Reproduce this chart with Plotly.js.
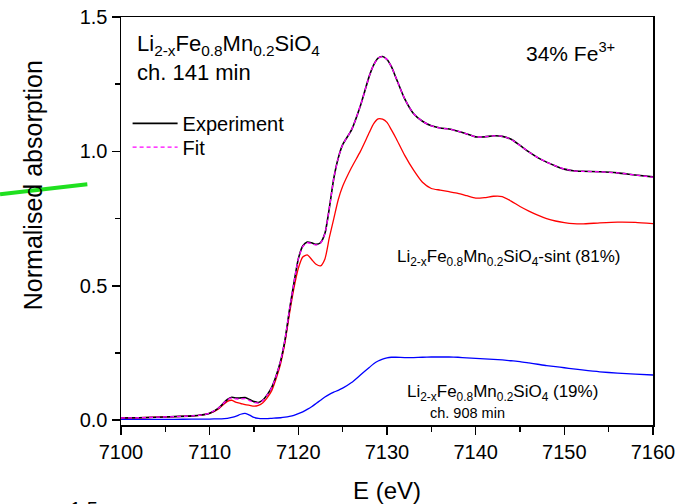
<!DOCTYPE html>
<html>
<head>
<meta charset="utf-8">
<script src="https://cdn.plot.ly/plotly-3.0.1.min.js"></script>
<style>html,body{margin:0;padding:0;background:#fff;}#chart{width:684px;height:504px;}</style>
</head>
<body>
<div id="chart"></div>
<script>
// Photon energy grid (eV)
const energy = [7100,7102,7104,7106,7108,7109,7110,7111,7112,7112.5,7113,7113.5,7114,7114.5,7115,7115.5,7116,7116.5,7117,7117.5,7118,7118.5,7119,7119.5,7120,7120.5,7121,7121.5,7122,7122.5,7123,7123.5,7124,7124.5,7125,7126,7127,7128,7128.5,7129,7129.5,7130,7130.5,7131,7132,7133,7134,7135,7136,7137,7138,7139,7140,7141,7142,7143,7144,7145,7146,7147,7148,7149,7150,7151,7152,7154,7156,7158,7160];

// Experiment (black)
const experiment = [0.008,0.009,0.011,0.013,0.016,0.019,0.026,0.045,0.077,0.085,0.082,0.083,0.084,0.077,0.069,0.066,0.075,0.095,0.122,0.165,0.22,0.30,0.41,0.51,0.60,0.648,0.663,0.66,0.654,0.66,0.695,0.79,0.90,0.975,1.025,1.08,1.17,1.28,1.322,1.347,1.353,1.342,1.315,1.275,1.195,1.14,1.112,1.095,1.087,1.083,1.075,1.065,1.054,1.054,1.058,1.056,1.045,1.022,0.998,0.977,0.96,0.946,0.934,0.928,0.926,0.924,0.92,0.912,0.905];

// Fit (magenta dashed)
const fit = [0.008,0.009,0.011,0.013,0.016,0.019,0.026,0.045,0.076,0.083,0.079,0.079,0.080,0.073,0.066,0.064,0.073,0.094,0.121,0.164,0.22,0.30,0.41,0.51,0.60,0.646,0.660,0.657,0.652,0.658,0.694,0.79,0.90,0.975,1.025,1.08,1.17,1.28,1.322,1.347,1.353,1.342,1.315,1.275,1.195,1.14,1.112,1.095,1.087,1.083,1.075,1.065,1.054,1.054,1.058,1.056,1.045,1.022,0.998,0.977,0.96,0.946,0.934,0.928,0.926,0.924,0.92,0.912,0.904];

// Li2-xFe0.8Mn0.2SiO4-sint component, 81% (red)
const sint = [0.008,0.009,0.011,0.013,0.016,0.019,0.025,0.042,0.070,0.074,0.066,0.062,0.058,0.055,0.052,0.055,0.065,0.084,0.11,0.155,0.21,0.29,0.395,0.49,0.565,0.607,0.615,0.598,0.58,0.574,0.60,0.68,0.75,0.82,0.87,0.94,1.0,1.07,1.103,1.121,1.12,1.108,1.08,1.05,0.985,0.93,0.885,0.862,0.856,0.85,0.844,0.835,0.826,0.828,0.833,0.832,0.815,0.795,0.778,0.763,0.75,0.741,0.735,0.731,0.73,0.734,0.737,0.736,0.731];

// Li2-xFe0.8Mn0.2SiO4 ch. 908 min component, 19% (blue)
const ch908 = [0.003,0.003,0.003,0.003,0.004,0.004,0.004,0.005,0.007,0.010,0.015,0.022,0.025,0.019,0.010,0.007,0.006,0.006,0.007,0.008,0.009,0.011,0.014,0.018,0.024,0.031,0.040,0.050,0.062,0.074,0.086,0.096,0.104,0.111,0.119,0.14,0.168,0.196,0.21,0.22,0.227,0.232,0.234,0.234,0.233,0.233,0.234,0.235,0.235,0.235,0.234,0.232,0.23,0.228,0.226,0.224,0.221,0.218,0.213,0.208,0.203,0.199,0.195,0.191,0.187,0.18,0.175,0.171,0.168];

const xTicks = [7100,7110,7120,7130,7140,7150,7160];
const yTicks = [0.0,0.5,1.0,1.5];

const FONT = 'Liberation Sans, Arial, Helvetica, sans-serif';

const traces = [
  {x: energy, y: sint, mode: 'lines', name: 'sint', showlegend: false,
   line: {color: '#ff0000', width: 1.3, shape: 'spline', smoothing: 0.6}},
  {x: energy, y: ch908, mode: 'lines', name: 'ch908', showlegend: false,
   line: {color: '#0000ff', width: 1.3, shape: 'spline', smoothing: 0.6}},
  {x: energy, y: experiment, mode: 'lines', name: 'Experiment', legend: 'legend',
   line: {color: '#000000', width: 1.6, shape: 'spline', smoothing: 0.6}},
  {x: energy, y: fit, mode: 'lines', name: 'Fit', legend: 'legend2',
   line: {color: '#ff00ff', width: 1.3, dash: '4px,3px', shape: 'spline', smoothing: 0.6}}
];

const ax = {
  showline: true, linewidth: 1.5, linecolor: '#000', mirror: true,
  ticks: 'outside', ticklen: 8, tickwidth: 1.5, tickcolor: '#000',
  showgrid: false, zeroline: false,
  tickfont: {family: FONT, size: 20, color: '#000'}
};

const legendBase = {xanchor: 'left', yanchor: 'top',
  bgcolor: 'rgba(0,0,0,0)', borderwidth: 0,
  font: {family: FONT, size: 20, color: '#000'}, itemwidth: 45};

const layout = {
  width: 684, height: 504,
  margin: {l: 121, r: 31, t: 17, b: 79},
  paper_bgcolor: '#fff', plot_bgcolor: '#fff',
  font: {family: FONT, color: '#000'},
  showlegend: true,
  legend: Object.assign({}, legendBase, {x: 0.0124, y: 0.787}),
  legend2: Object.assign({}, legendBase, {x: 0.0124, y: 0.729}),
  xaxis: Object.assign({}, ax, {
    range: [7100, 7160], tickvals: xTicks, ticktext: xTicks.map(String),
    minor: {dtick: 5, tick0: 7100, ticks: 'outside', ticklen: 5, tickwidth: 1.5, tickcolor: '#000', showgrid: false},
    title: {text: 'E (eV)', font: {family: FONT, size: 24, color: '#000'}, standoff: 20}
  }),
  yaxis: Object.assign({}, ax, {
    range: [-0.018, 1.5], tickvals: yTicks, ticktext: yTicks.map(v => v.toFixed(1)),
    minor: {dtick: 0.25, tick0: 0, ticks: 'outside', ticklen: 5, tickwidth: 1.5, tickcolor: '#000', showgrid: false}
  }),
  shapes: [
    {type: 'line', xref: 'paper', yref: 'paper', x0: -0.2274, y0: 0.5654, x1: -0.0633, y1: 0.59,
     line: {color: '#1fe01f', width: 4}, layer: 'above'}
  ],
  annotations: [
    {text: 'Normalised absorption', textangle: -90, xref: 'paper', yref: 'paper',
     x: -0.166, y: 0.587, xanchor: 'center', yanchor: 'middle', showarrow: false,
     font: {family: FONT, size: 25, color: '#000'}},
    {text: 'Li<sub>2-x</sub>Fe<sub>0.8</sub>Mn<sub>0.2</sub>SiO<sub>4</sub><br>ch. 141 min',
     xref: 'paper', yref: 'paper', x: 0.026, y: 0.97, xanchor: 'left', yanchor: 'top', align: 'left',
     showarrow: false, font: {family: FONT, size: 22, color: '#000'}},
    {text: '34% Fe<sup>3+</sup>', xref: 'paper', yref: 'paper', x: 0.757, y: 0.915,
     xanchor: 'left', yanchor: 'middle', showarrow: false, font: {family: FONT, size: 21, color: '#000'}},
    {text: 'Li<sub>2-x</sub>Fe<sub>0.8</sub>Mn<sub>0.2</sub>SiO<sub>4</sub>-sint (81%)',
     xref: 'paper', yref: 'paper', x: 0.515, y: 0.409, xanchor: 'left', yanchor: 'middle',
     showarrow: false, font: {family: FONT, size: 17, color: '#000'}},
    {text: 'Li<sub>2-x</sub>Fe<sub>0.8</sub>Mn<sub>0.2</sub>SiO<sub>4</sub> (19%)',
     xref: 'paper', yref: 'paper', x: 0.533, y: 0.078, xanchor: 'left', yanchor: 'middle',
     showarrow: false, font: {family: FONT, size: 17, color: '#000'}},
    {text: 'ch. 908 min', xref: 'paper', yref: 'paper', x: 0.577, y: 0.029, xanchor: 'left', yanchor: 'middle',
     showarrow: false, font: {family: FONT, size: 14.5, color: '#000'}},
    {text: '1.5', xref: 'paper', yref: 'paper', x: -0.04, y: -0.173, xanchor: 'right', yanchor: 'top',
     showarrow: false, font: {family: FONT, size: 20, color: '#000'}}
  ]
};

Plotly.newPlot('chart', traces, layout, {displayModeBar: false, staticPlot: true});
</script>
</body>
</html>
